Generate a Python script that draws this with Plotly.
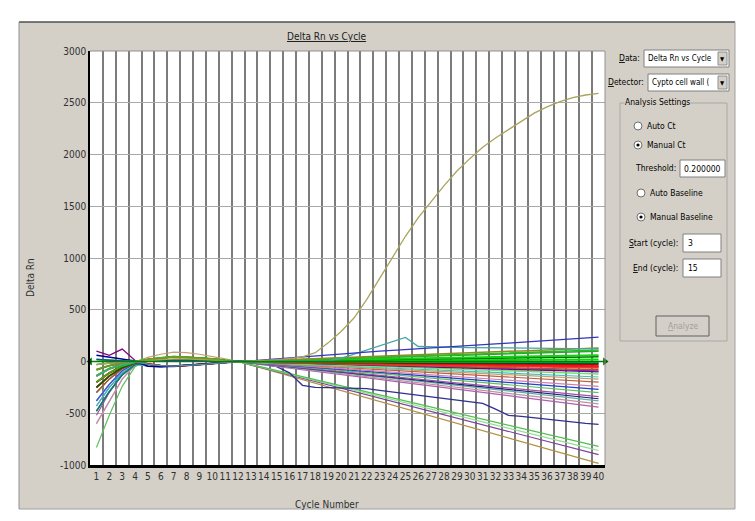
import plotly.graph_objects as go

# ---------------- data ----------------
cycles = list(range(1, 41))
cycle_labels = [str(c) for c in cycles]
y_tickvals = [-1000, -500, 0, 500, 1000, 1500, 2000, 2500, 3000]
y_ticktext = ["-1000", "-500", "0", "500", "1000", "1500", "2000", "2500", "3000"]
threshold = 0.2

well_01 = [-30,-15,-5,0, 10,20,25,25,20,15,8,0, 5,10,18,28,45,85,180,290,420,600, 800,1010,1210,1390,1550,1700,1840,1960,2070,2160, 2240,2320,2400,2460,2510,2550,2575,2590]
well_02 = [20,10,5,0, 5,10,10,10,8,5,3,0, 5,15,25,35,45,55,65,75,85,92, 100,108,115,122,130,138,146,155,163,170, 178,186,195,203,212,220,228,235]
well_03 = [-140,-70,-30,-5, -25,-40,-45,-40,-30,-20,-10,0, 0,0,0,0,0,0,5,30,70,110, 150,190,232,145,140,138,136,135,133,132, 130,130,128,127,126,125,125,125]
well_04 = [-80,-40,-15,-3, 20,35,45,40,35,25,10,0, 4,9,14,18,23,28,32,37,42,46, 51,56,60,65,70,74,79,84,88,93, 98,102,107,112,116,121,125,130]
well_05 = [-30,-15,-8,-2, 5,10,10,10,8,5,3,0, 4,7,11,14,18,21,25,29,32,36, 39,43,46,50,54,57,61,64,68,71, 75,79,82,86,89,93,96,100]
well_06 = [20,10,5,0, 20,35,45,40,35,25,10,0, 1,1,2,3,4,4,5,6,6,7, 8,9,9,10,11,11,12,13,14,14, 15,16,16,17,18,19,19,20]
well_07 = [-80,-40,-15,-3, 5,10,10,10,8,5,3,0, 0,-1,-1,-1,-2,-2,-2,-3,-3,-4, -4,-4,-5,-5,-5,-6,-6,-6,-7,-7, -8,-8,-8,-9,-9,-9,-10,-10]
well_08 = [-200,-110,-45,-10, -25,-40,-45,-40,-30,-20,-10,0, -1,-2,-3,-4,-5,-6,-8,-9,-10,-11, -12,-13,-14,-15,-16,-17,-18,-19,-20,-21, -23,-24,-25,-26,-27,-28,-29,-30]
well_09 = [-140,-70,-30,-5, 5,10,10,10,8,5,3,0, -2,-4,-6,-9,-11,-13,-15,-17,-19,-21, -24,-26,-28,-30,-32,-34,-36,-39,-41,-43, -45,-47,-49,-51,-54,-56,-58,-60]
well_10 = [-250,-140,-60,-15, 20,35,45,40,35,25,10,0, 2,3,5,6,8,10,11,13,14,16, 18,19,21,22,24,26,27,29,31,32, 34,35,37,39,40,42,43,45]
well_11 = [60,40,20,5, -45,-50,-45,-35,-25,-15,-8,0, -1,-1,-2,-3,-4,-4,-5,-6,-6,-7, -8,-9,-9,-10,-11,-11,-12,-13,-14,-14, -15,-16,-16,-17,-18,-19,-19,-20]
well_12 = [-300,-170,-70,-15, -25,-40,-45,-40,-30,-20,-10,0, -3,-6,-9,-11,-14,-17,-20,-23,-26,-29, -31,-34,-37,-40,-43,-46,-49,-51,-54,-57, -60,-63,-66,-69,-71,-74,-77,-80]
well_13 = [100,60,120,10, 5,10,10,10,8,5,3,0, -4,-7,-11,-14,-18,-21,-25,-29,-32,-36, -39,-43,-46,-50,-54,-57,-61,-64,-68,-71, -75,-79,-82,-86,-89,-93,-96,-100]
well_14 = [-380,-220,-90,-20, 20,35,45,40,35,25,10,0, -4,-9,-13,-17,-21,-26,-30,-34,-39,-43, -47,-51,-56,-60,-64,-69,-73,-77,-81,-86, -90,-94,-99,-103,-107,-111,-116,-120]
well_15 = [-430,-250,-110,-25, -45,-50,-45,-35,-25,-15,-8,0, -5,-11,-16,-21,-27,-32,-38,-43,-48,-54, -59,-64,-70,-75,-80,-86,-91,-96,-102,-107, -112,-118,-123,-129,-134,-139,-145,-150]
well_16 = [-30,-15,-8,-2, 40,70,90,85,70,50,25,0, -6,-12,-18,-24,-30,-36,-43,-49,-55,-61, -67,-73,-79,-85,-91,-97,-103,-109,-115,-121, -128,-134,-140,-146,-152,-158,-164,-170]
well_17 = [-480,-290,-130,-30, 5,10,10,10,8,5,3,0, -7,-14,-21,-29,-36,-43,-50,-57,-64,-71, -79,-86,-93,-100,-107,-114,-121,-129,-136,-143, -150,-157,-164,-171,-179,-186,-193,-200]
well_18 = [-600,-380,-170,-35, -25,-40,-45,-40,-30,-20,-10,0, -9,-17,-26,-34,-43,-51,-60,-69,-77,-86, -94,-103,-111,-120,-129,-137,-146,-154,-163,-171, -180,-189,-197,-206,-214,-223,-231,-240]
well_19 = [-80,-40,-15,-3, -45,-50,-45,-35,-25,-15,-8,0, -10,-19,-29,-39,-48,-58,-67,-77,-87,-96, -106,-116,-125,-135,-145,-154,-164,-174,-183,-193, -203,-212,-222,-231,-241,-251,-260,-270]
well_20 = [-830,-520,-240,-50, 20,35,45,40,35,25,10,0, -11,-21,-32,-43,-54,-64,-75,-86,-96,-107, -118,-129,-139,-150,-161,-171,-182,-193,-204,-214, -225,-236,-246,-257,-268,-279,-289,-300]
well_21 = [-520,-300,-120,-20, 5,10,10,10,8,5,3,0, -12,-24,-36,-49,-61,-73,-85,-97,-109,-121, -134,-146,-158,-170,-182,-194,-206,-219,-231,-243, -255,-267,-279,-291,-304,-316,-328,-340]
well_22 = [-200,-110,-45,-10, -25,-40,-45,-40,-30,-20,-10,0, -13,-26,-39,-51,-64,-77,-90,-103,-116,-129, -141,-154,-167,-180,-193,-206,-219,-231,-244,-257, -270,-283,-296,-309,-321,-334,-347,-360]
well_23 = [-300,-170,-70,-15, 20,35,45,40,35,25,10,0, -15,-29,-44,-59,-73,-88,-102,-117,-132,-146, -161,-176,-190,-205,-220,-234,-249,-264,-278,-293, -307,-322,-337,-351,-366,-381,-395,-410]
well_24 = [-380,-220,-90,-20, -45,-50,-45,-35,-25,-15,-8,0, -16,-31,-47,-63,-79,-94,-110,-126,-141,-157, -173,-189,-204,-220,-236,-251,-267,-283,-299,-314, -330,-346,-361,-377,-393,-409,-424,-440]
well_25 = [-140,-70,-30,-5, 5,10,10,10,8,5,3,0, -10,-25,-50,-110,-230,-250,-252,-255,-258,-262, -280,-295,-310,-325,-340,-355,-370,-390,-405,-460, -520,-530,-545,-560,-575,-585,-598,-608]
well_26 = [-480,-290,-130,-30, 20,35,45,40,35,25,10,0, -29,-59,-88,-117,-146,-176,-205,-234,-264,-293, -322,-351,-381,-410,-439,-469,-498,-527,-556,-586, -615,-644,-674,-703,-732,-761,-791,-820]
well_27 = [-600,-380,-170,-35, 5,10,10,10,8,5,3,0, -31,-61,-92,-123,-154,-184,-215,-246,-276,-307, -338,-369,-399,-430,-461,-491,-522,-553,-584,-614, -645,-676,-706,-737,-768,-799,-829,-860]
well_28 = [-430,-250,-110,-25, -25,-40,-45,-40,-30,-20,-10,0, -32,-64,-96,-129,-161,-193,-225,-257,-289,-321, -354,-386,-418,-450,-482,-514,-546,-579,-611,-643, -675,-707,-739,-771,-804,-836,-868,-900]
well_29 = [-250,-140,-60,-15, 20,35,45,40,35,25,10,0, -35,-70,-106,-141,-176,-211,-246,-281,-317,-352, -387,-422,-457,-492,-528,-563,-598,-633,-668,-704, -739,-774,-809,-844,-880,-915,-950,-985]
well_30 = [-300,-170,-70,-15, 5,10,10,10,8,5,3,0, -14,-27,-41,-54,-68,-81,-95,-109,-122,-136, -149,-163,-176,-190,-204,-217,-231,-244,-258,-271, -285,-299,-312,-326,-339,-353,-366,-380]
well_31 = [-140,-70,-30,-5, 20,35,45,40,35,25,10,0, 2,4,6,9,11,13,15,17,19,21, 24,26,28,30,32,34,36,39,41,43, 45,47,49,51,54,56,58,60]
well_32 = [-250,-140,-60,-15, 5,10,10,10,8,5,3,0, -2,-3,-5,-6,-8,-10,-11,-13,-14,-16, -18,-19,-21,-22,-24,-26,-27,-29,-31,-32, -34,-35,-37,-39,-40,-42,-43,-45]
well_33 = [-480,-290,-130,-30, -25,-40,-45,-40,-30,-20,-10,0, -2,-4,-5,-7,-9,-11,-12,-14,-16,-18, -20,-21,-23,-25,-27,-29,-30,-32,-34,-36, -38,-39,-41,-43,-45,-46,-48,-50]
well_34 = [-380,-220,-90,-20, 5,10,10,10,8,5,3,0, -3,-6,-10,-13,-16,-19,-22,-26,-29,-32, -35,-39,-42,-45,-48,-51,-55,-58,-61,-64, -68,-71,-74,-77,-80,-84,-87,-90]
well_35 = [-200,-110,-45,-10, 5,10,10,10,8,5,3,0, 4,8,12,16,20,24,28,31,35,39, 43,47,51,55,59,63,67,71,75,79, 83,86,90,94,98,102,106,110]

# (values, colour, width)
wells = [
    (well_29, "#b09040", 1.2), (well_28, "#8040a0", 1.2), (well_27, "#90e090", 1.2),
    (well_26, "#50c050", 1.2), (well_25, "#303090", 1.3), (well_24, "#b060b0", 1.2),
    (well_23, "#c090a0", 1.2), (well_30, "#60b0a0", 1.2), (well_22, "#202080", 1.2),
    (well_21, "#a050a0", 1.2), (well_20, "#60c060", 1.2), (well_19, "#2040d0", 1.2),
    (well_18, "#d080b0", 1.2), (well_17, "#c06040", 1.2), (well_16, "#c0a070", 1.2),
    (well_15, "#40c0c0", 1.2), (well_14, "#70e070", 1.5), (well_34, "#4040ff", 1.2),
    (well_13, "#800080", 1.3), (well_12, "#a05a2c", 1.5), (well_33, "#008080", 1.5),
    (well_09, "#ff3030", 2.0), (well_32, "#e02020", 2.0), (well_08, "#e00000", 2.0),
    (well_11, "#000090", 1.5), (well_07, "#00b400", 2.0), (well_06, "#00e000", 2.0),
    (well_10, "#006400", 1.5), (well_31, "#10d010", 2.0), (well_05, "#30a030", 1.5),
    (well_35, "#20c020", 1.5), (well_04, "#8c8c28", 1.5), (well_03, "#45a5a5", 1.3),
    (well_02, "#3535c0", 1.3), (well_01, "#aaa45e", 1.3),
]

# ---------------- figure ----------------
W, H = 755, 521
L, R, T, B = 90, 150, 51, 56
PW, PH = W - L - R, H - T - B
GRAY = "#d4d0c8"
UI_FONT = "Liberation Sans Narrow, DejaVu Sans Condensed, Liberation Sans, Arial, sans-serif"
AX_FONT = UI_FONT


def fx(px):
    return (px - L) / PW


def fy(py):
    return (H - B - py) / PH


fig = go.Figure()
for vals, col, wd in wells:
    fig.add_trace(go.Scatter(x=cycles, y=vals, mode="lines",
                             line=dict(color=col, width=wd), hoverinfo="skip"))

fig.add_trace(go.Scatter(x=[0.5, 40.5], y=[threshold, threshold], mode="lines+markers",
                         line=dict(color="#008000", width=1.5),
                         marker=dict(symbol=["triangle-left", "triangle-right"], size=7,
                                     color="#006000"),
                         cliponaxis=False, hoverinfo="skip"))

shapes = []
annotations = []


def rect(x0, y0, x1, y1, fill=None, line="#808080", lw=1, layer="above"):
    shapes.append(dict(type="rect", xref="paper", yref="paper",
                       x0=fx(x0), x1=fx(x1), y0=fy(y1), y1=fy(y0),
                       fillcolor=fill if fill else "rgba(0,0,0,0)",
                       line=dict(color=line, width=lw), layer=layer))


def hline(x0, x1, y, color, lw=1):
    shapes.append(dict(type="line", xref="paper", yref="paper",
                       x0=fx(x0), x1=fx(x1), y0=fy(y), y1=fy(y),
                       line=dict(color=color, width=lw), layer="above"))


def vline(x, y0, y1, color, lw=1):
    shapes.append(dict(type="line", xref="paper", yref="paper",
                       x0=fx(x), x1=fx(x), y0=fy(y0), y1=fy(y1),
                       line=dict(color=color, width=lw), layer="above"))


def text(x, y, s, size=9, color="#000000", xanchor="left", angle=0, bg=None):
    a = dict(x=fx(x), y=fy(y), xref="paper", yref="paper", text=s, showarrow=False,
             xanchor=xanchor, yanchor="middle", textangle=angle,
             font=dict(family=UI_FONT, size=size, color=color))
    if bg:
        a["bgcolor"] = bg
        a["borderpad"] = 0
    annotations.append(a)


def radio(cx, cy, on):
    shapes.append(dict(type="circle", xref="paper", yref="paper",
                       x0=fx(cx - 4), x1=fx(cx + 4), y0=fy(cy + 4), y1=fy(cy - 4),
                       fillcolor="white", line=dict(color="#707070", width=1), layer="above"))
    if on:
        shapes.append(dict(type="circle", xref="paper", yref="paper",
                           x0=fx(cx - 1.6), x1=fx(cx + 1.6), y0=fy(cy + 1.6), y1=fy(cy - 1.6),
                           fillcolor="black", line=dict(color="black", width=0), layer="above"))


# white surroundings outside the window
rect(0, 0, W, 22, fill="white", line="white", lw=0, layer="below")
rect(0, 0, 19, H, fill="white", line="white", lw=0, layer="below")
rect(735, 0, W, H, fill="white", line="white", lw=0, layer="below")
rect(0, 509, W, H, fill="white", line="white", lw=0, layer="below")
# window border
hline(19, 735, 22, "#505050", 1.5)
vline(19, 22, 509, "#909090", 1)
vline(735, 22, 509, "#a0a0a0", 1)
hline(19, 735, 509, "#a0a0a0", 1)

# plot frame top/right
hline(90, 605, 51, "#909090", 1)
vline(605, 51, 465, "#909090", 1)

# titles
text(327, 36, "<u>Delta Rn vs Cycle</u>", size=10, color="#202020", xanchor="center")
text(30, 278, "Delta Rn", size=10, color="#303030", xanchor="center", angle=-90)
text(327, 504, "Cycle Number", size=10, color="#303030", xanchor="center")

# right panel controls
text(642, 58, "<u>D</u>ata:", size=8.5, xanchor="right")
rect(644, 50, 729, 67, fill="white", line="#808080")
text(646, 58.5, "Delta Rn vs Cycle", size=8)
rect(718, 52, 727, 65, fill=GRAY, line="#909090")
text(722.5, 58.5, "▼", size=6, xanchor="center")

text(646, 82, "<u>D</u>etector:", size=8.5, xanchor="right")
rect(648, 74, 729, 91, fill="white", line="#808080")
text(650, 82.5, "Cypto cell wall (", size=8)
rect(718, 76, 727, 89, fill=GRAY, line="#909090")
text(722.5, 82.5, "▼", size=6, xanchor="center")

rect(620, 103, 727, 341, fill=None, line="#a8a8a8")
text(624, 102, "Analysis Settings", size=8.5, bg=GRAY)

radio(638, 126, False)
text(645, 126, "Auto Ct", size=8.5)
radio(638, 145, True)
text(645, 145, "Manual Ct", size=8.5)

text(678, 168, "Threshold:", size=8.5, xanchor="right")
rect(680, 160, 725, 177, fill="white", line="#808080")
text(682, 168.5, "0.200000", size=8.5)

radio(641, 193, False)
text(648, 193, "Auto Baseline", size=8.5)
radio(641, 217, True)
text(648, 217, "Manual Baseline", size=8.5)

text(680, 243, "<u>S</u>tart (cycle):", size=8.5, xanchor="right")
rect(683, 234, 721, 252, fill="white", line="#808080")
text(686, 243, "3", size=8.5)

text(680, 268, "<u>E</u>nd (cycle):", size=8.5, xanchor="right")
rect(683, 259, 721, 277, fill="white", line="#808080")
text(686, 268, "15", size=8.5)

rect(656, 316, 709, 336, fill=GRAY, line="#606060")
text(682.5, 326, "<u>A</u>nalyze", size=8.5, color="#a0a0a0", xanchor="center")

fig.update_layout(
    width=W, height=H,
    margin=dict(l=L, r=R, t=T, b=B, pad=0),
    paper_bgcolor=GRAY, plot_bgcolor="white",
    showlegend=False,
    shapes=shapes, annotations=annotations,
    xaxis=dict(range=[0.5, 40.5], tickmode="array", tickvals=cycles, ticktext=cycle_labels,
               tickangle=0, showgrid=False, zeroline=False, ticks="",
               showline=True, linecolor="#000000", linewidth=2.5,
               tickfont=dict(family=AX_FONT, size=10, color="#303030"),
               minor=dict(tick0=0.5, dtick=1, showgrid=True, gridcolor="#7c7c7c",
                          gridwidth=1.5, ticks="")),
    yaxis=dict(range=[-1000, 3000], tickmode="array", tickvals=y_tickvals, ticktext=y_ticktext,
               showgrid=True, gridcolor="#a8a8a8", gridwidth=1, zeroline=False, ticks="",
               showline=True, linecolor="#000000", linewidth=1.5,
               tickfont=dict(family=AX_FONT, size=10, color="#303030")),
)

fig.write_html("out.html")
